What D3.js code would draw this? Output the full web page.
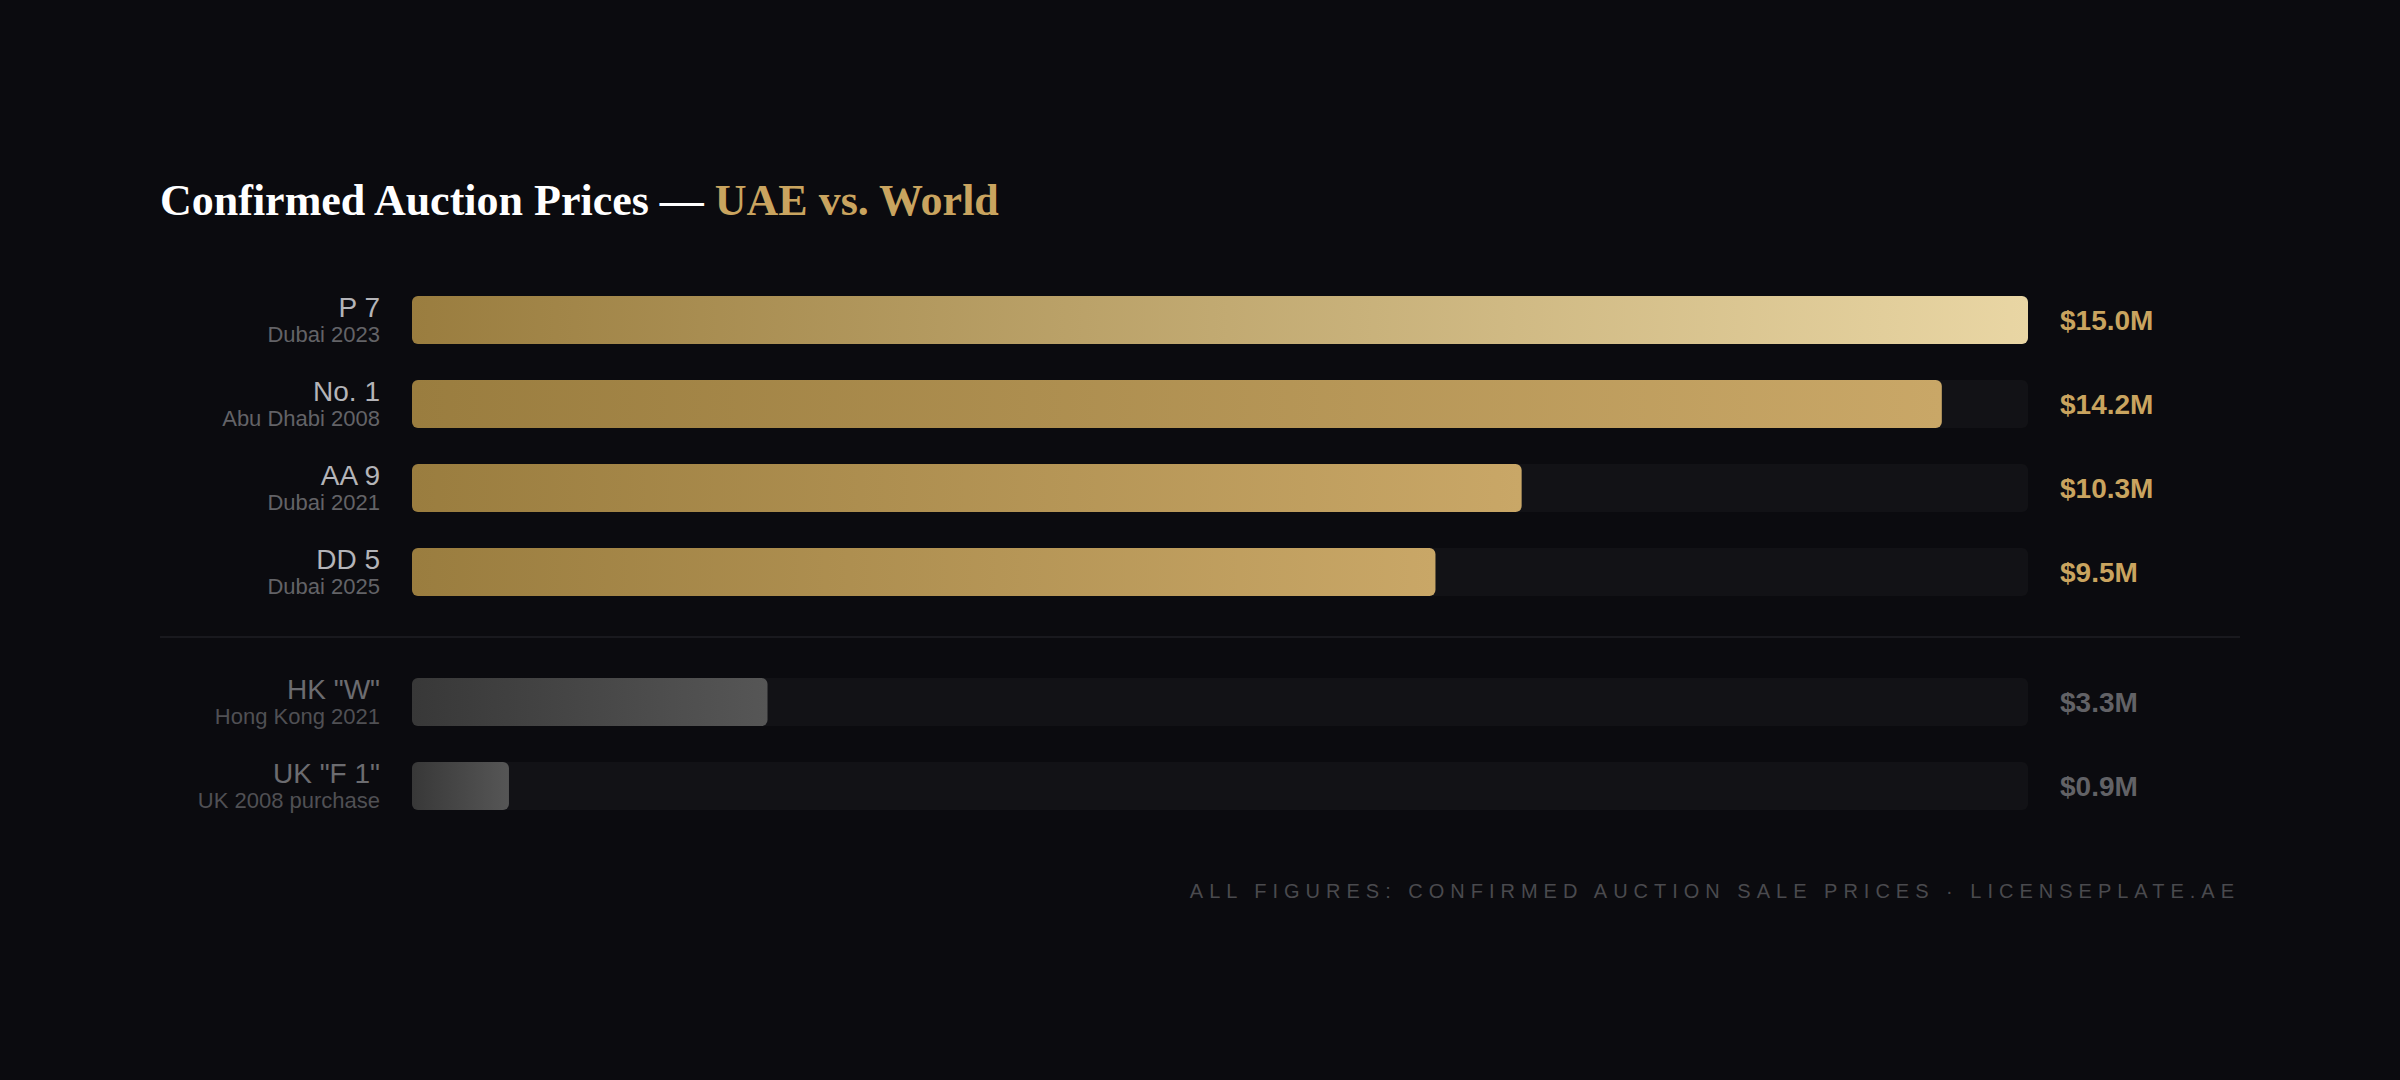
<!DOCTYPE html>
<html>
<head>
<meta charset="utf-8">
<script src="https://cdn.jsdelivr.net/npm/d3@7"></script>
<style>
  html, body { margin: 0; padding: 0; background: #0b0b0f; }
  svg { display: block; }
</style>
</head>
<body>
<div class="chart"></div>
<script>
// data
var plates = ["P 7", "No. 1", "AA 9", "DD 5", "HK \"W\"", "UK \"F 1\""];
var places = ["Dubai 2023", "Abu Dhabi 2008", "Dubai 2021", "Dubai 2025", "Hong Kong 2021", "UK 2008 purchase"];
var prices = [15.0, 14.2, 10.3, 9.5, 3.3, 0.9];
var regions = ["UAE", "UAE", "UAE", "UAE", "World", "World"];

var rows = plates.map((p, i) => ({plate: p, place: places[i], price: prices[i], region: regions[i], idx: i}))

var W = 2400, H = 1080
var svg = d3.select(".chart").append("svg").attr("width", W).attr("height", H)
svg.style("background-color", "#0b0b0f")

var x = d3.scaleLinear().domain([0, 15]).range([412, 2028])
var yUae = d3.scalePoint().domain(plates.filter((p, i) => regions[i] == "UAE")).range([320, 572])
var yWorld = d3.scalePoint().domain(plates.filter((p, i) => regions[i] == "World")).range([702, 786])
var y = d => d.region == "UAE" ? yUae(d.plate) : yWorld(d.plate)
var barH = 48

// gradients
var defs = svg.append("defs")
function grad(id, c0, c1) {
  var g = defs.append("linearGradient").attr("id", id).attr("x1", "0%").attr("x2", "100%").attr("y1", "0%").attr("y2", "0%")
  g.append("stop").attr("offset", "0%").attr("stop-color", c0)
  g.append("stop").attr("offset", "100%").attr("stop-color", c1)
}
grad("goldTop", "#9a7d3f", "#e9d6a4")
grad("gold", "#9a7d3f", "#c9a767")
grad("grey", "#383838", "#565656")

// title
var title = svg.append("text")
  .attr("x", 160).attr("y", 215)
  .style("font-family", "'Liberation Serif', 'Times New Roman', serif")
  .style("font-weight", "bold")
  .style("font-size", "44px")
title.append("tspan").text("Confirmed Auction Prices \u2014 ").style("fill", "#ffffff")
title.append("tspan").text("UAE vs. World").style("fill", "#c9a45f")

// tracks
svg.selectAll("rect.track")
  .data(rows)
  .enter()
  .append("rect")
  .attr("class", "track")
  .attr("x", x(0))
  .attr("y", d => y(d) - barH / 2)
  .attr("width", x(15) - x(0))
  .attr("height", barH)
  .attr("rx", 6)
  .style("fill", "#121216")

// bars
svg.selectAll("rect.bar")
  .data(rows)
  .enter()
  .append("rect")
  .attr("class", "bar")
  .attr("x", x(0))
  .attr("y", d => y(d) - barH / 2)
  .attr("width", d => x(d.price) - x(0))
  .attr("height", barH)
  .attr("rx", 6)
  .style("fill", d => {
    if (d.region == "World") return "url(#grey)"
    if (d.idx == 0) return "url(#goldTop)"
    return "url(#gold)"
  })

// labels left
svg.selectAll("text.plate")
  .data(rows)
  .enter()
  .append("text")
  .attr("class", "plate")
  .attr("x", 380)
  .attr("y", d => y(d) - 3)
  .attr("text-anchor", "end")
  .text(d => d.plate)
  .style("font-family", "'Liberation Sans', Arial, sans-serif")
  .style("font-size", "28px")
  .style("fill", d => d.region == "UAE" ? "#b4b4b8" : "#6c6c70")

svg.selectAll("text.place")
  .data(rows)
  .enter()
  .append("text")
  .attr("class", "place")
  .attr("x", 380)
  .attr("y", d => y(d) + 22)
  .attr("text-anchor", "end")
  .text(d => d.place)
  .style("font-family", "'Liberation Sans', Arial, sans-serif")
  .style("font-size", "22px")
  .style("fill", d => d.region == "UAE" ? "#636367" : "#505054")

// value labels
svg.selectAll("text.val")
  .data(rows)
  .enter()
  .append("text")
  .attr("class", "val")
  .attr("x", 2060)
  .attr("y", d => y(d) + 10)
  .text(d => "$" + d.price.toFixed(1) + "M")
  .style("font-family", "'Liberation Sans', Arial, sans-serif")
  .style("font-weight", "bold")
  .style("font-size", "28px")
  .style("fill", d => d.region == "UAE" ? "#c9a45f" : "#626266")

// divider
svg.append("line")
  .attr("x1", 160).attr("x2", 2240)
  .attr("y1", 637).attr("y2", 637)
  .style("stroke", "#1f1f24")
  .style("stroke-width", 1.5)

// footer
svg.append("text")
  .attr("x", 2240).attr("y", 898)
  .attr("text-anchor", "end")
  .text("ALL FIGURES: CONFIRMED AUCTION SALE PRICES \u00b7 LICENSEPLATE.AE")
  .style("font-family", "'Liberation Sans', Arial, sans-serif")
  .style("font-size", "20px")
  .style("letter-spacing", "6px")
  .style("fill", "#4a4a4e")
</script>
</body>
</html>
